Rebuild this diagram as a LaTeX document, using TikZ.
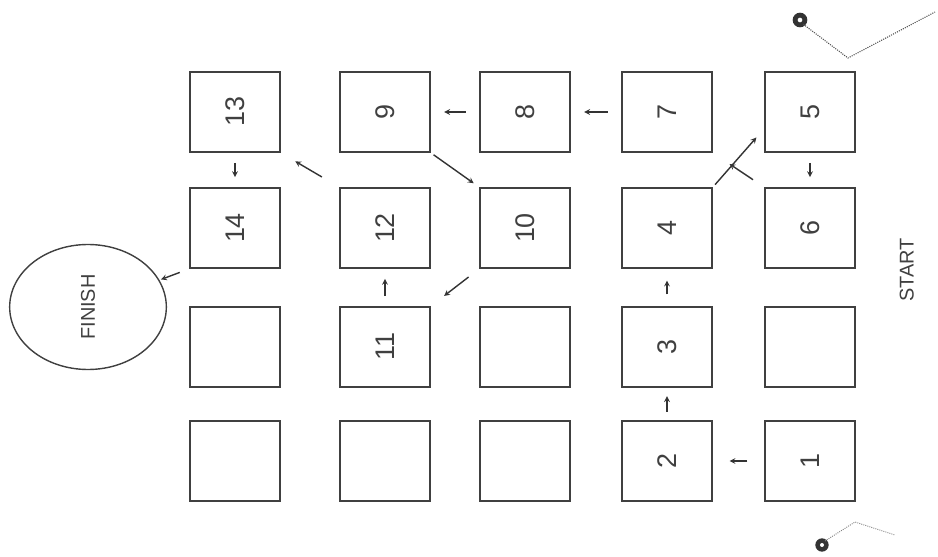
\documentclass[tikz,border=0pt]{standalone}
\usepackage{fontspec}
\setmainfont{Liberation Sans}
\usepackage{tikz}
\usetikzlibrary{shapes, arrows, positioning}

\begin{document}
\begin{tikzpicture}[>=stealth,
    cell/.style={draw=black!75, line width=1.5pt, minimum width=2.7cm, minimum height=2.4cm,
        font=\fontsize{23}{27}\selectfont, text=black!75},
    link/.style={->, line width=1.2pt, black!80, shorten <=#1, shorten >=#1},
    link/.default=0.4cm,
    word/.style={rotate=90, font=\fontsize{17}{20}\selectfont, text=black!75}]
    \useasboundingbox (0, 0) rectangle (28.14, 16.68);

    % --- 第一行 ---
    \node[cell] (b13) at (7.05, 13.32) {\rotatebox{90}{13}};
    \node[cell] (b9)  at (11.55, 13.32) {\rotatebox{90}{9}};
    \node[cell] (b8)  at (15.75, 13.32) {\rotatebox{90}{8}};
    \node[cell] (b7)  at (20.01, 13.32) {\rotatebox{90}{7}};
    \node[cell] (b5)  at (24.3, 13.32) {\rotatebox{90}{5}};

    % --- 第二行 ---
    \node[cell] (b14) at (7.05, 9.84) {\rotatebox{90}{14}};
    \node[cell] (b12) at (11.55, 9.84) {\rotatebox{90}{12}};
    \node[cell] (b10) at (15.75, 9.84) {\rotatebox{90}{10}};
    \node[cell] (b4)  at (20.01, 9.84) {\rotatebox{90}{4}};
    \node[cell] (b6)  at (24.3, 9.84) {\rotatebox{90}{6}};

    % --- 第三行 ---
    \node[cell] (e1)  at (7.05, 6.27) {};
    \node[cell] (b11) at (11.55, 6.27) {\rotatebox{90}{11}};
    \node[cell] (e2)  at (15.75, 6.27) {};
    \node[cell] (b3)  at (20.01, 6.27) {\rotatebox{90}{3}};
    \node[cell] (e3)  at (24.3, 6.27) {};

    % --- 第四行 ---
    \node[cell] (e4)  at (7.05, 2.85) {};
    \node[cell] (e5)  at (11.55, 2.85) {};
    \node[cell] (e6)  at (15.75, 2.85) {};
    \node[cell] (b2)  at (20.01, 2.85) {\rotatebox{90}{2}};
    \node[cell] (b1)  at (24.3, 2.85) {\rotatebox{90}{1}};

    % --- 起点与终点 ---
    \node[draw=black!75, line width=1.2pt, ellipse, minimum width=4.7cm, minimum height=3.75cm]
        (finish) at (2.64, 7.47) {};
    \node[word] at (finish) {FINISH};
    \node[word] (start) at (27.2, 8.58) {START};

    % --- 箭头 ---
    \draw[link=0.5cm] (b1) -- (b2);
    \draw[link=0.25cm] (b2) -- (b3);
    \draw[link=0.35cm] (b3) -- (b4);
    \draw[link, shorten <=0.1cm, shorten >=0.35cm] (b4.north east) -- (b5.200);
    \draw[link=0.3cm] (b5) -- (b6);
    \draw[link, shorten <=0.4cm, shorten >=0.6cm] (b6.north west) -- (b7.south east);
    \draw[link=0.4cm] (b7) -- (b8);
    \draw[link=0.4cm] (b8) -- (b9);
    \draw[link, shorten <=0.1cm, shorten >=0.2cm] (b9.south east) -- (b10.north west);
    \draw[link, shorten <=0.4cm, shorten >=0.5cm] (b10.south west) -- (b11.north east);
    \draw[link=0.3cm] (b11) -- (b12);
    \draw[link, shorten <=0.6cm, shorten >=0.5cm] (b12.north west) -- (b13.south east);
    \draw[link=0.3cm] (b13) -- (b14);
    \draw[link, shorten <=0.3cm, shorten >=0.05cm] (b14.south west) -- (finish);

    % --- 角上的记号 ---
    \fill[black!80] (24.0, 16.08) circle (0.22);
    \fill[white] (24.0, 16.08) circle (0.07);
    \draw[black!70, line width=0.9pt, densely dotted] (24.1, 15.95) -- (25.44, 14.94) -- (28.05, 16.32);
    \fill[black!80] (24.66, 0.33) circle (0.2);
    \fill[white] (24.66, 0.33) circle (0.06);
    \draw[black!50, line width=0.8pt, densely dotted] (24.75, 0.45) -- (25.65, 1.02) -- (26.85, 0.63);
\end{tikzpicture}
\end{document}
